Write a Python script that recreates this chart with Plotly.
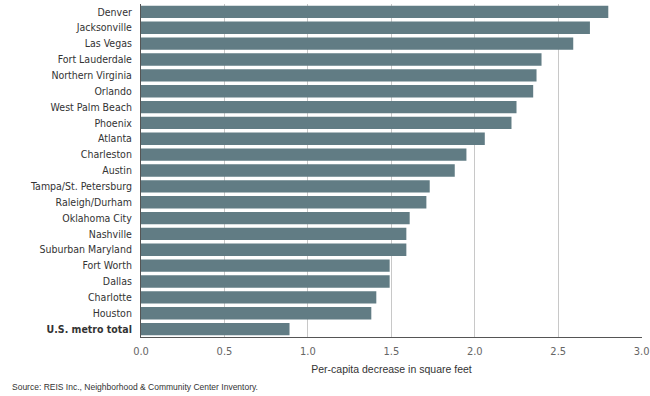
import plotly.graph_objects as go

cities = ["Denver", "Jacksonville", "Las Vegas", "Fort Lauderdale", "Northern Virginia",
          "Orlando", "West Palm Beach", "Phoenix", "Atlanta", "Charleston", "Austin",
          "Tampa/St. Petersburg", "Raleigh/Durham", "Oklahoma City", "Nashville",
          "Suburban Maryland", "Fort Worth", "Dallas", "Charlotte", "Houston",
          "<b>U.S. metro total</b>"]
values = [2.80, 2.69, 2.59, 2.40, 2.37, 2.35, 2.25, 2.22, 2.06, 1.95, 1.88,
          1.73, 1.71, 1.61, 1.59, 1.59, 1.49, 1.49, 1.41, 1.38, 0.89]
tick_vals = [0, 0.5, 1.0, 1.5, 2.0, 2.5, 3.0]
tick_text = ["0.0", "0.5", "1.0", "1.5", "2.0", "2.5", "3.0"]

font_family = "Liberation Sans Narrow, DejaVu Sans Condensed, Arial Narrow, sans-serif"

L, R, T, B = 141, 8, 4, 59
W, H = 650, 396
pw, ph = W - L - R, H - T - B

fig = go.Figure(go.Bar(
    x=values, y=cities, orientation="h",
    marker=dict(color="#617c84", line=dict(width=0)),
))

fig.update_layout(
    width=W, height=H,
    margin=dict(l=L, r=R, t=T, b=B),
    paper_bgcolor="white", plot_bgcolor="white",
    bargap=0.22,
    showlegend=False,
    font=dict(family=font_family, size=10, color="#333333"),
    xaxis=dict(
        range=[0, 3.002], tickvals=tick_vals, ticktext=tick_text,
        showgrid=True, gridcolor="#c8c8c8", gridwidth=1, automargin=False,
        zeroline=False, showline=True, linecolor="#555555", linewidth=1,
        ticks="", ticklabelstandoff=4, tickfont=dict(size=11, color="#666666"),
        title=dict(text="Per-capita decrease in square feet",
                   font=dict(family="Liberation Sans, Arial, sans-serif", size=10.5, color="#333333"),
                   standoff=8),
    ),
    yaxis=dict(
        autorange="reversed", showgrid=False, showline=True, linecolor="#555555",
        linewidth=1, ticks="", automargin=False, ticklabelstandoff=6,
        tickfont=dict(size=10.5, color="#333333"),
    ),
    annotations=[dict(
        text="Source: REIS Inc., Neighborhood & Community Center Inventory.",
        x=-(L - 10) / pw, y=-(387 - (H - B)) / ph, xref="paper", yref="paper",
        showarrow=False, xanchor="left", yanchor="middle",
        font=dict(family="Liberation Sans, Arial, sans-serif", size=8.5, color="#333333"),
    )],
)

fig.write_html("out.html", config={"displayModeBar": False},
               post_script="document.body.style.margin='0';document.body.style.padding='0';")
